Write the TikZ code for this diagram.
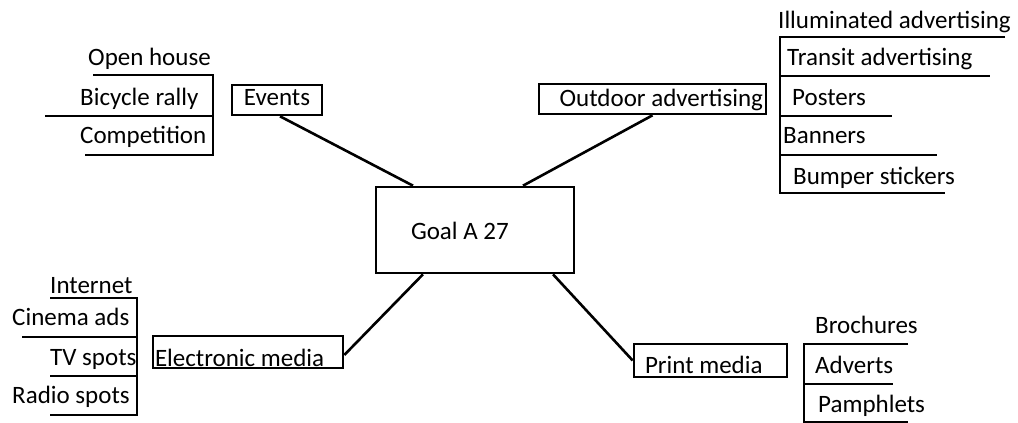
\documentclass[tikz,border=0pt]{standalone}
\usepackage{fontspec}
\setmainfont{Carlito}
\usetikzlibrary{positioning}

\begin{document}
\begin{tikzpicture}[
    x=1pt, y=-1pt,
    font=\fontsize{25}{30}\selectfont,
    box/.style={draw, line width=2.6pt, rectangle, inner ysep=0pt},
    item/.style={anchor=base west, inner sep=0pt},
    link/.style={line width=2.6pt},
    rule/.style={line width=2.6pt},
]
\useasboundingbox (0,0) rectangle (1018,423);

% centre
\node[box, inner xsep=35pt, text width=128pt, align=flush left,
      text height=52pt, text depth=34pt] (goal) at (475,230) {Goal A 27};

% four branches
\node[box, inner xsep=0pt, text width=90pt, align=flush center,
      text height=20pt, text depth=10pt] (events) at (277,100) {Events};
\node[box, inner xsep=3pt, text width=221pt, align=flush right,
      text height=22pt, text depth=8pt] (outdoor) at (652.5,99) {Outdoor advertising};
\node[box, inner xsep=2pt, text width=186pt, align=flush left,
      text height=30pt, text depth=2pt] (electronic) at (248,352) {Electronic media};
\node[box, inner xsep=11pt, text width=131pt, align=flush left,
      text height=29pt, text depth=4pt] (print) at (710.5,360.5) {Print media};

\draw[link] ([xshift=3pt]events.south) -- ([xshift=-62pt]goal.north);
\draw[link] (outdoor.south) -- ([xshift=48pt]goal.north);
\draw[link] ([yshift=-3pt]electronic.east) -- ([xshift=-52pt]goal.south);
\draw[link] (print.west) -- ([xshift=78pt]goal.south);

% events list
\node[item] (openhouse) at (88,65) {Open house};
\node[item] (bicycle) at (80,105) {Bicycle rally};
\node[item] (competition) at (80,143) {Competition};
\draw[rule] (93,75) -- (213,75) -- (213,155) -- (85,155);
\draw[rule] (45,116) -- (213,116);

% outdoor list
\node[item] (illuminated) at (778,28) {Illuminated advertising};
\node[item] (transit) at (787,65) {Transit advertising};
\node[item] (posters) at (792,105) {Posters};
\node[item] (banners) at (783,143) {Banners};
\node[item] (bumper) at (793,184) {Bumper stickers};
\draw[rule] (1005,37) -- (780,37) -- (780,193) -- (945,193);
\draw[rule] (780,76) -- (990,76);
\draw[rule] (780,116) -- (892,116);
\draw[rule] (780,155) -- (937,155);

% electronic list
\node[item] (internet) at (50,293) {Internet};
\node[item] (cinema) at (12,325) {Cinema ads};
\node[item] (tvspots) at (50,365) {TV spots};
\node[item] (radio) at (12,403) {Radio spots};
\draw[rule] (50,298) -- (137,298) -- (137,415) -- (50,415);
\draw[rule] (22,337) -- (137,337);
\draw[rule] (50,376) -- (137,376);

% print list
\node[item] (brochures) at (815,333) {Brochures};
\node[item] (adverts) at (815,373) {Adverts};
\node[item] (pamphlets) at (818,412) {Pamphlets};
\draw[rule] (908,344) -- (804,344) -- (804,422) -- (908,422);
\draw[rule] (804,384) -- (893,384);

\end{tikzpicture}
\end{document}
